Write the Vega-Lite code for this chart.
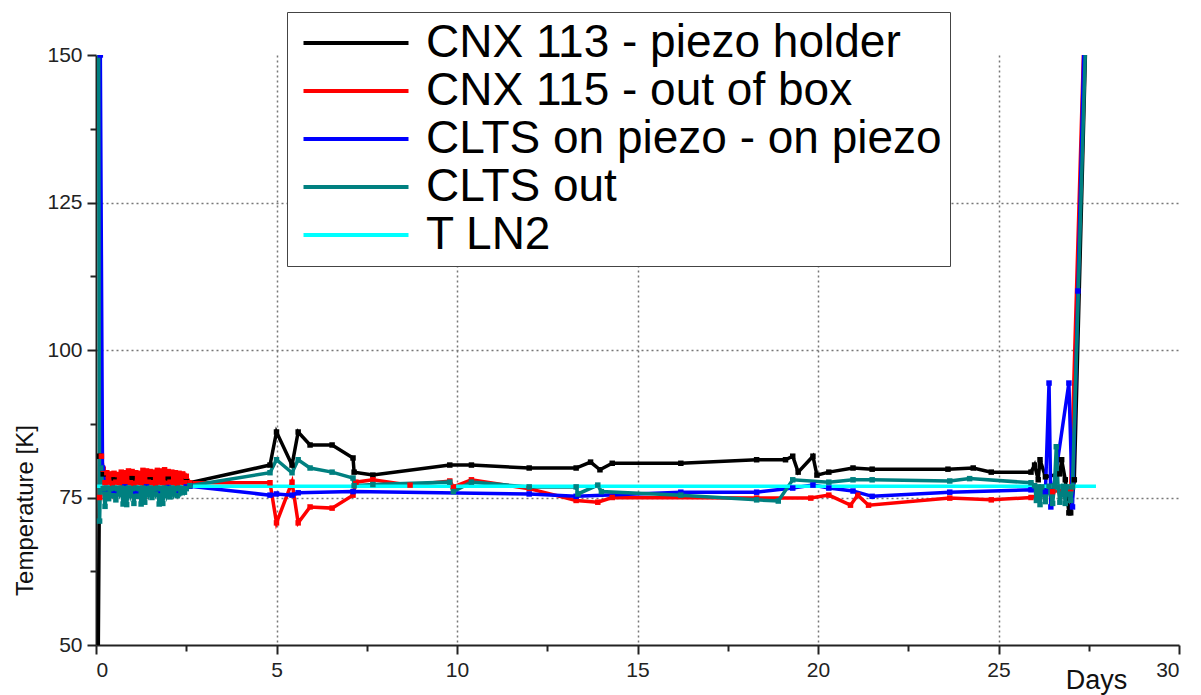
{
  "$schema": "https://vega.github.io/schema/vega-lite/v6.json",
  "width": 1083,
  "height": 590,
  "autosize": {"type": "none"},
  "padding": {"left": 96, "top": 55, "right": 22, "bottom": 50},
  "background": "white",
  "config": {
    "font": "Liberation Sans",
    "view": {"stroke": null},
    "legend": {
      "orient": "none", "legendX": 191, "legendY": -43, "direction": "vertical",
      "strokeColor": "#444", "fillColor": "white", "padding": 8,
      "labelFontSize": 46, "labelFont": "Liberation Sans", "labelColor": "black", "labelLimit": 0,
      "symbolType": "M-3,0L3,0", "symbolSize": 1225, "symbolStrokeWidth": 4, "symbolOffset": 38,
      "labelOffset": 47, "rowPadding": 2, "title": null
    }
  },
  "data": {"values": [
    {"s": "CNX 113 - piezo holder", "d": 0.03, "t": 20},
    {"s": "CNX 113 - piezo holder", "d": 0.1, "t": 82},
    {"s": "CNX 113 - piezo holder", "d": 0.2, "t": 79},
    {"s": "CNX 113 - piezo holder", "d": 0.5, "t": 78},
    {"s": "CNX 113 - piezo holder", "d": 1.0, "t": 78.2},
    {"s": "CNX 113 - piezo holder", "d": 1.5, "t": 78},
    {"s": "CNX 113 - piezo holder", "d": 2.0, "t": 78.1},
    {"s": "CNX 113 - piezo holder", "d": 2.5, "t": 77.8},
    {"s": "CNX 113 - piezo holder", "d": 2.6, "t": 77.5},
    {"s": "CNX 113 - piezo holder", "d": 4.82, "t": 80.5},
    {"s": "CNX 113 - piezo holder", "d": 5.0, "t": 86.1},
    {"s": "CNX 113 - piezo holder", "d": 5.43, "t": 80.5},
    {"s": "CNX 113 - piezo holder", "d": 5.6, "t": 86.1},
    {"s": "CNX 113 - piezo holder", "d": 5.93, "t": 83.9},
    {"s": "CNX 113 - piezo holder", "d": 6.54, "t": 83.9},
    {"s": "CNX 113 - piezo holder", "d": 7.12, "t": 81.7},
    {"s": "CNX 113 - piezo holder", "d": 7.15, "t": 79.3},
    {"s": "CNX 113 - piezo holder", "d": 7.67, "t": 78.8},
    {"s": "CNX 113 - piezo holder", "d": 9.8, "t": 80.5},
    {"s": "CNX 113 - piezo holder", "d": 10.4, "t": 80.5},
    {"s": "CNX 113 - piezo holder", "d": 12.0, "t": 80.0},
    {"s": "CNX 113 - piezo holder", "d": 13.3, "t": 80.0},
    {"s": "CNX 113 - piezo holder", "d": 13.7, "t": 81.0},
    {"s": "CNX 113 - piezo holder", "d": 13.96, "t": 79.7},
    {"s": "CNX 113 - piezo holder", "d": 14.3, "t": 80.8},
    {"s": "CNX 113 - piezo holder", "d": 16.2, "t": 80.8},
    {"s": "CNX 113 - piezo holder", "d": 18.3, "t": 81.4},
    {"s": "CNX 113 - piezo holder", "d": 19.1, "t": 81.4},
    {"s": "CNX 113 - piezo holder", "d": 19.3, "t": 82.0},
    {"s": "CNX 113 - piezo holder", "d": 19.45, "t": 79.3},
    {"s": "CNX 113 - piezo holder", "d": 19.86, "t": 82.0},
    {"s": "CNX 113 - piezo holder", "d": 19.97, "t": 78.8},
    {"s": "CNX 113 - piezo holder", "d": 20.3, "t": 79.3},
    {"s": "CNX 113 - piezo holder", "d": 20.97, "t": 80.0},
    {"s": "CNX 113 - piezo holder", "d": 21.5, "t": 79.8},
    {"s": "CNX 113 - piezo holder", "d": 23.6, "t": 79.8},
    {"s": "CNX 113 - piezo holder", "d": 24.3, "t": 80.0},
    {"s": "CNX 113 - piezo holder", "d": 24.8, "t": 79.3},
    {"s": "CNX 113 - piezo holder", "d": 25.9, "t": 79.3},
    {"s": "CNX 113 - piezo holder", "d": 26.0, "t": 80.5},
    {"s": "CNX 113 - piezo holder", "d": 26.1, "t": 78.0},
    {"s": "CNX 113 - piezo holder", "d": 26.15, "t": 81.4},
    {"s": "CNX 113 - piezo holder", "d": 26.3, "t": 78.5},
    {"s": "CNX 113 - piezo holder", "d": 26.7, "t": 79.0},
    {"s": "CNX 113 - piezo holder", "d": 26.75, "t": 81.4},
    {"s": "CNX 113 - piezo holder", "d": 26.85, "t": 78.0},
    {"s": "CNX 113 - piezo holder", "d": 26.95, "t": 72.4},
    {"s": "CNX 113 - piezo holder", "d": 27.0, "t": 72.4},
    {"s": "CNX 113 - piezo holder", "d": 27.1, "t": 78.0},
    {"s": "CNX 113 - piezo holder", "d": 27.45, "t": 160},

    {"s": "CNX 115 - out of box", "d": 0.1, "t": 75},
    {"s": "CNX 115 - out of box", "d": 0.15, "t": 82},
    {"s": "CNX 115 - out of box", "d": 0.2, "t": 79.8},
    {"s": "CNX 115 - out of box", "d": 0.25, "t": 77.5},
    {"s": "CNX 115 - out of box", "d": 0.3, "t": 79.2},
    {"s": "CNX 115 - out of box", "d": 0.35, "t": 77.6},
    {"s": "CNX 115 - out of box", "d": 0.4, "t": 79.0},
    {"s": "CNX 115 - out of box", "d": 0.45, "t": 77.4},
    {"s": "CNX 115 - out of box", "d": 0.5, "t": 79.1},
    {"s": "CNX 115 - out of box", "d": 0.55, "t": 77.6},
    {"s": "CNX 115 - out of box", "d": 0.6, "t": 78.9},
    {"s": "CNX 115 - out of box", "d": 0.65, "t": 77.5},
    {"s": "CNX 115 - out of box", "d": 0.7, "t": 79.3},
    {"s": "CNX 115 - out of box", "d": 0.75, "t": 77.4},
    {"s": "CNX 115 - out of box", "d": 0.8, "t": 79.2},
    {"s": "CNX 115 - out of box", "d": 0.85, "t": 77.6},
    {"s": "CNX 115 - out of box", "d": 0.9, "t": 79.5},
    {"s": "CNX 115 - out of box", "d": 0.95, "t": 77.5},
    {"s": "CNX 115 - out of box", "d": 1.0, "t": 79.4},
    {"s": "CNX 115 - out of box", "d": 1.05, "t": 77.4},
    {"s": "CNX 115 - out of box", "d": 1.1, "t": 79.2},
    {"s": "CNX 115 - out of box", "d": 1.15, "t": 77.6},
    {"s": "CNX 115 - out of box", "d": 1.2, "t": 79.1},
    {"s": "CNX 115 - out of box", "d": 1.25, "t": 77.5},
    {"s": "CNX 115 - out of box", "d": 1.3, "t": 79.6},
    {"s": "CNX 115 - out of box", "d": 1.35, "t": 77.4},
    {"s": "CNX 115 - out of box", "d": 1.4, "t": 79.5},
    {"s": "CNX 115 - out of box", "d": 1.45, "t": 77.6},
    {"s": "CNX 115 - out of box", "d": 1.5, "t": 79.4},
    {"s": "CNX 115 - out of box", "d": 1.55, "t": 77.5},
    {"s": "CNX 115 - out of box", "d": 1.6, "t": 79.3},
    {"s": "CNX 115 - out of box", "d": 1.65, "t": 77.4},
    {"s": "CNX 115 - out of box", "d": 1.7, "t": 79.6},
    {"s": "CNX 115 - out of box", "d": 1.75, "t": 77.6},
    {"s": "CNX 115 - out of box", "d": 1.8, "t": 79.5},
    {"s": "CNX 115 - out of box", "d": 1.85, "t": 77.5},
    {"s": "CNX 115 - out of box", "d": 1.9, "t": 79.7},
    {"s": "CNX 115 - out of box", "d": 1.95, "t": 77.4},
    {"s": "CNX 115 - out of box", "d": 2.0, "t": 79.4},
    {"s": "CNX 115 - out of box", "d": 2.05, "t": 77.6},
    {"s": "CNX 115 - out of box", "d": 2.1, "t": 79.3},
    {"s": "CNX 115 - out of box", "d": 2.15, "t": 77.5},
    {"s": "CNX 115 - out of box", "d": 2.2, "t": 79.2},
    {"s": "CNX 115 - out of box", "d": 2.25, "t": 77.4},
    {"s": "CNX 115 - out of box", "d": 2.3, "t": 79.1},
    {"s": "CNX 115 - out of box", "d": 2.35, "t": 77.6},
    {"s": "CNX 115 - out of box", "d": 2.4, "t": 79.0},
    {"s": "CNX 115 - out of box", "d": 2.45, "t": 77.5},
    {"s": "CNX 115 - out of box", "d": 2.5, "t": 78.6},
    {"s": "CNX 115 - out of box", "d": 2.6, "t": 77.5},
    {"s": "CNX 115 - out of box", "d": 4.82, "t": 77.5},
    {"s": "CNX 115 - out of box", "d": 5.0, "t": 70.7},
    {"s": "CNX 115 - out of box", "d": 5.43, "t": 77.6},
    {"s": "CNX 115 - out of box", "d": 5.6, "t": 70.7},
    {"s": "CNX 115 - out of box", "d": 5.93, "t": 73.4},
    {"s": "CNX 115 - out of box", "d": 6.54, "t": 73.2},
    {"s": "CNX 115 - out of box", "d": 7.12, "t": 75.4},
    {"s": "CNX 115 - out of box", "d": 7.2, "t": 77.6},
    {"s": "CNX 115 - out of box", "d": 7.67, "t": 78.0},
    {"s": "CNX 115 - out of box", "d": 8.7, "t": 77.1},
    {"s": "CNX 115 - out of box", "d": 9.8, "t": 77.8},
    {"s": "CNX 115 - out of box", "d": 9.9, "t": 76.8},
    {"s": "CNX 115 - out of box", "d": 10.4, "t": 78.0},
    {"s": "CNX 115 - out of box", "d": 12.0, "t": 76.5},
    {"s": "CNX 115 - out of box", "d": 13.3, "t": 74.5},
    {"s": "CNX 115 - out of box", "d": 13.9, "t": 74.2},
    {"s": "CNX 115 - out of box", "d": 14.3, "t": 75.0},
    {"s": "CNX 115 - out of box", "d": 18.3, "t": 74.9},
    {"s": "CNX 115 - out of box", "d": 19.8, "t": 74.9},
    {"s": "CNX 115 - out of box", "d": 20.3, "t": 75.4},
    {"s": "CNX 115 - out of box", "d": 20.9, "t": 73.7},
    {"s": "CNX 115 - out of box", "d": 21.1, "t": 75.4},
    {"s": "CNX 115 - out of box", "d": 21.4, "t": 73.7},
    {"s": "CNX 115 - out of box", "d": 23.65, "t": 74.9},
    {"s": "CNX 115 - out of box", "d": 24.8, "t": 74.6},
    {"s": "CNX 115 - out of box", "d": 25.9, "t": 75.0},
    {"s": "CNX 115 - out of box", "d": 26.5, "t": 76.0},
    {"s": "CNX 115 - out of box", "d": 27.0, "t": 76.5},
    {"s": "CNX 115 - out of box", "d": 27.4, "t": 160},

    {"s": "CLTS on piezo - on piezo", "d": 0.08, "t": 160},
    {"s": "CLTS on piezo - on piezo", "d": 0.12, "t": 150},
    {"s": "CLTS on piezo - on piezo", "d": 0.18, "t": 80},
    {"s": "CLTS on piezo - on piezo", "d": 0.25, "t": 76.5},
    {"s": "CLTS on piezo - on piezo", "d": 0.5, "t": 76.2},
    {"s": "CLTS on piezo - on piezo", "d": 0.8, "t": 76.8},
    {"s": "CLTS on piezo - on piezo", "d": 1.1, "t": 76.1},
    {"s": "CLTS on piezo - on piezo", "d": 1.4, "t": 76.8},
    {"s": "CLTS on piezo - on piezo", "d": 1.7, "t": 76.2},
    {"s": "CLTS on piezo - on piezo", "d": 2.0, "t": 76.7},
    {"s": "CLTS on piezo - on piezo", "d": 2.3, "t": 76.2},
    {"s": "CLTS on piezo - on piezo", "d": 2.5, "t": 76.8},
    {"s": "CLTS on piezo - on piezo", "d": 2.6, "t": 76.9},
    {"s": "CLTS on piezo - on piezo", "d": 4.82, "t": 75.4},
    {"s": "CLTS on piezo - on piezo", "d": 5.0, "t": 75.6},
    {"s": "CLTS on piezo - on piezo", "d": 5.43, "t": 75.4},
    {"s": "CLTS on piezo - on piezo", "d": 5.6, "t": 75.8},
    {"s": "CLTS on piezo - on piezo", "d": 7.12, "t": 76.0},
    {"s": "CLTS on piezo - on piezo", "d": 12.0, "t": 75.6},
    {"s": "CLTS on piezo - on piezo", "d": 13.3, "t": 75.2},
    {"s": "CLTS on piezo - on piezo", "d": 16.2, "t": 75.9},
    {"s": "CLTS on piezo - on piezo", "d": 18.3, "t": 75.9},
    {"s": "CLTS on piezo - on piezo", "d": 19.3, "t": 76.6},
    {"s": "CLTS on piezo - on piezo", "d": 19.86, "t": 77.1},
    {"s": "CLTS on piezo - on piezo", "d": 20.3, "t": 76.6},
    {"s": "CLTS on piezo - on piezo", "d": 20.97, "t": 76.1},
    {"s": "CLTS on piezo - on piezo", "d": 21.5, "t": 75.2},
    {"s": "CLTS on piezo - on piezo", "d": 23.65, "t": 75.9},
    {"s": "CLTS on piezo - on piezo", "d": 25.9, "t": 76.3},
    {"s": "CLTS on piezo - on piezo", "d": 26.3, "t": 76.0},
    {"s": "CLTS on piezo - on piezo", "d": 26.4, "t": 94.4},
    {"s": "CLTS on piezo - on piezo", "d": 26.45, "t": 73.4},
    {"s": "CLTS on piezo - on piezo", "d": 26.95, "t": 94.4},
    {"s": "CLTS on piezo - on piezo", "d": 27.05, "t": 73.4},
    {"s": "CLTS on piezo - on piezo", "d": 27.2, "t": 110},
    {"s": "CLTS on piezo - on piezo", "d": 27.4, "t": 160},

    {"s": "CLTS out", "d": 0.07, "t": 160},
    {"s": "CLTS out", "d": 0.1, "t": 71},
    {"s": "CLTS out", "d": 0.13, "t": 80},
    {"s": "CLTS out", "d": 0.2, "t": 76.5},
    {"s": "CLTS out", "d": 0.25, "t": 73.5},
    {"s": "CLTS out", "d": 0.3, "t": 76.6},
    {"s": "CLTS out", "d": 0.35, "t": 74.8},
    {"s": "CLTS out", "d": 0.4, "t": 76.5},
    {"s": "CLTS out", "d": 0.45, "t": 75.3},
    {"s": "CLTS out", "d": 0.5, "t": 76.6},
    {"s": "CLTS out", "d": 0.55, "t": 74.6},
    {"s": "CLTS out", "d": 0.6, "t": 76.5},
    {"s": "CLTS out", "d": 0.65, "t": 75.6},
    {"s": "CLTS out", "d": 0.7, "t": 76.6},
    {"s": "CLTS out", "d": 0.75, "t": 73.9},
    {"s": "CLTS out", "d": 0.8, "t": 76.5},
    {"s": "CLTS out", "d": 0.85, "t": 73.8},
    {"s": "CLTS out", "d": 0.9, "t": 76.6},
    {"s": "CLTS out", "d": 0.95, "t": 75.4},
    {"s": "CLTS out", "d": 1.0, "t": 76.5},
    {"s": "CLTS out", "d": 1.05, "t": 74.0},
    {"s": "CLTS out", "d": 1.1, "t": 76.6},
    {"s": "CLTS out", "d": 1.15, "t": 75.2},
    {"s": "CLTS out", "d": 1.2, "t": 76.5},
    {"s": "CLTS out", "d": 1.25, "t": 73.9},
    {"s": "CLTS out", "d": 1.3, "t": 76.6},
    {"s": "CLTS out", "d": 1.35, "t": 74.2},
    {"s": "CLTS out", "d": 1.4, "t": 76.5},
    {"s": "CLTS out", "d": 1.45, "t": 75.5},
    {"s": "CLTS out", "d": 1.5, "t": 76.6},
    {"s": "CLTS out", "d": 1.55, "t": 75.0},
    {"s": "CLTS out", "d": 1.6, "t": 76.5},
    {"s": "CLTS out", "d": 1.65, "t": 75.6},
    {"s": "CLTS out", "d": 1.7, "t": 76.6},
    {"s": "CLTS out", "d": 1.75, "t": 73.9},
    {"s": "CLTS out", "d": 1.8, "t": 76.5},
    {"s": "CLTS out", "d": 1.85, "t": 74.0},
    {"s": "CLTS out", "d": 1.9, "t": 76.6},
    {"s": "CLTS out", "d": 1.95, "t": 75.4},
    {"s": "CLTS out", "d": 2.0, "t": 76.5},
    {"s": "CLTS out", "d": 2.05, "t": 75.1},
    {"s": "CLTS out", "d": 2.1, "t": 76.6},
    {"s": "CLTS out", "d": 2.15, "t": 75.6},
    {"s": "CLTS out", "d": 2.2, "t": 76.5},
    {"s": "CLTS out", "d": 2.25, "t": 75.3},
    {"s": "CLTS out", "d": 2.3, "t": 76.6},
    {"s": "CLTS out", "d": 2.35, "t": 75.8},
    {"s": "CLTS out", "d": 2.4, "t": 76.5},
    {"s": "CLTS out", "d": 2.45, "t": 75.9},
    {"s": "CLTS out", "d": 2.5, "t": 76.5},
    {"s": "CLTS out", "d": 2.6, "t": 77.0},
    {"s": "CLTS out", "d": 4.82, "t": 79.2},
    {"s": "CLTS out", "d": 5.0, "t": 81.4},
    {"s": "CLTS out", "d": 5.43, "t": 79.2},
    {"s": "CLTS out", "d": 5.6, "t": 81.4},
    {"s": "CLTS out", "d": 5.93, "t": 80.0},
    {"s": "CLTS out", "d": 6.54, "t": 79.3},
    {"s": "CLTS out", "d": 7.12, "t": 78.3},
    {"s": "CLTS out", "d": 7.15, "t": 77.0},
    {"s": "CLTS out", "d": 7.67, "t": 77.2},
    {"s": "CLTS out", "d": 9.8, "t": 77.6},
    {"s": "CLTS out", "d": 9.9, "t": 76.0},
    {"s": "CLTS out", "d": 10.4, "t": 77.6},
    {"s": "CLTS out", "d": 12.0, "t": 76.8},
    {"s": "CLTS out", "d": 13.3, "t": 76.8},
    {"s": "CLTS out", "d": 13.35, "t": 75.6},
    {"s": "CLTS out", "d": 13.9, "t": 77.1},
    {"s": "CLTS out", "d": 14.0, "t": 76.0},
    {"s": "CLTS out", "d": 16.2, "t": 75.4},
    {"s": "CLTS out", "d": 18.3, "t": 74.6},
    {"s": "CLTS out", "d": 18.9, "t": 74.4},
    {"s": "CLTS out", "d": 19.3, "t": 78.0},
    {"s": "CLTS out", "d": 20.3, "t": 77.6},
    {"s": "CLTS out", "d": 20.97, "t": 78.0},
    {"s": "CLTS out", "d": 21.5, "t": 78.0},
    {"s": "CLTS out", "d": 23.65, "t": 77.8},
    {"s": "CLTS out", "d": 24.2, "t": 78.2},
    {"s": "CLTS out", "d": 25.9, "t": 77.5},
    {"s": "CLTS out", "d": 26.0, "t": 77.0},
    {"s": "CLTS out", "d": 26.05, "t": 74.5},
    {"s": "CLTS out", "d": 26.1, "t": 76.8},
    {"s": "CLTS out", "d": 26.15, "t": 73.8},
    {"s": "CLTS out", "d": 26.2, "t": 76.8},
    {"s": "CLTS out", "d": 26.3, "t": 74.3},
    {"s": "CLTS out", "d": 26.4, "t": 76.9},
    {"s": "CLTS out", "d": 26.5, "t": 74.0},
    {"s": "CLTS out", "d": 26.55, "t": 77.0},
    {"s": "CLTS out", "d": 26.6, "t": 83.6},
    {"s": "CLTS out", "d": 26.65, "t": 76.8},
    {"s": "CLTS out", "d": 26.7, "t": 74.2},
    {"s": "CLTS out", "d": 26.8, "t": 76.9},
    {"s": "CLTS out", "d": 26.85, "t": 74.0},
    {"s": "CLTS out", "d": 26.9, "t": 76.8},
    {"s": "CLTS out", "d": 27.0, "t": 74.5},
    {"s": "CLTS out", "d": 27.05, "t": 76.8},
    {"s": "CLTS out", "d": 27.45, "t": 160},

    {"s": "T LN2", "d": 0.03, "t": 76.9},
    {"s": "T LN2", "d": 5.0, "t": 76.9},
    {"s": "T LN2", "d": 10.0, "t": 76.9},
    {"s": "T LN2", "d": 15.0, "t": 76.9},
    {"s": "T LN2", "d": 20.0, "t": 76.9},
    {"s": "T LN2", "d": 25.0, "t": 76.9},
    {"s": "T LN2", "d": 27.7, "t": 76.9}
  ]},
  "resolve": {"axis": {"x": "independent", "y": "independent"}},
  "layer": [
    {
      "mark": {"type": "line", "clip": true, "strokeWidth": 3.5},
      "encoding": {
        "x": {"field": "d", "type": "quantitative", "scale": {"domain": [0, 30], "nice": false, "zero": false},
          "axis": {"orient": "bottom", "values": [0, 5, 10, 15, 20, 25, 30], "title": "Days",
            "titleX": 1000, "titleY": 43, "titleAlign": "center", "titleBaseline": "alphabetic", "titleFontSize": 27, "titleFontWeight": "normal", "titleColor": "#111",
            "labelFontSize": 21, "labelColor": "#222", "labelPadding": 5, "tickSize": 9, "tickWidth": 2, "tickColor": "#222",
            "domainColor": "#222", "domainWidth": 2, "grid": true, "gridColor": "#777", "gridDash": [2, 3], "gridWidth": 1.5,
            "gridOpacity": {"condition": {"test": "datum.value == 0 || datum.value == 30", "value": 0}, "value": 1}}},
        "y": {"field": "t", "type": "quantitative", "scale": {"domain": [50, 150], "nice": false, "zero": false},
          "axis": {"orient": "left", "values": [50, 75, 100, 125, 150], "title": "Temperature [K]",
            "titleX": -71, "titleY": 455, "titleAngle": -90, "titleAlign": "center", "titleBaseline": "middle", "titleFontSize": 24, "titleFontWeight": "normal", "titleColor": "#111",
            "labelFontSize": 21, "labelColor": "#222", "labelPadding": 5, "tickSize": 9, "tickWidth": 2, "tickColor": "#222",
            "domainColor": "#222", "domainWidth": 2, "grid": true, "gridColor": "#777", "gridDash": [2, 3], "gridWidth": 1.5,
            "gridOpacity": {"condition": {"test": "datum.value == 50 || datum.value == 150", "value": 0}, "value": 1}}},
        "color": {"field": "s", "type": "nominal",
          "scale": {"domain": ["CNX 113 - piezo holder", "CNX 115 - out of box", "CLTS on piezo - on piezo", "CLTS out", "T LN2"],
            "range": ["#000000", "#ff0000", "#0000ff", "#008080", "#00ffff"]},
          "legend": {"symbolType": "M-3,0L3,0"}}
      }
    },
    {
      "transform": [{"filter": "datum.s != 'T LN2'"}],
      "mark": {"type": "point", "shape": "square", "filled": true, "size": 30, "opacity": 1, "clip": true},
      "encoding": {
        "x": {"field": "d", "type": "quantitative",
          "axis": {"orient": "bottom", "values": [2.5, 7.5, 12.5, 17.5, 22.5, 27.5], "labels": false, "domain": false, "grid": false, "title": null, "tickSize": 6, "tickWidth": 2, "tickColor": "#222"}},
        "y": {"field": "t", "type": "quantitative",
          "axis": {"orient": "left", "values": [62.5, 87.5, 112.5, 137.5], "labels": false, "domain": false, "grid": false, "title": null, "tickSize": 6, "tickWidth": 2, "tickColor": "#222"}},
        "color": {"field": "s", "type": "nominal", "legend": null}
      }
    }
  ]
}
